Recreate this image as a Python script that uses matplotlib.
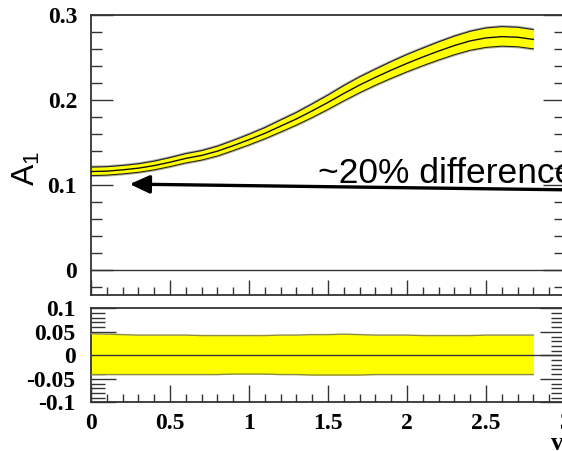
import matplotlib
matplotlib.use("Agg")
import matplotlib.pyplot as plt
from matplotlib.ticker import MultipleLocator
import numpy as np

# A1 central values and relative band half-widths versus v
v = [0.0, 0.1, 0.2, 0.3, 0.4, 0.5, 0.6, 0.7, 0.8, 0.9,
     1.0, 1.1, 1.2, 1.3, 1.4, 1.5, 1.6, 1.7, 1.8, 1.9,
     2.0, 2.1, 2.2, 2.3, 2.4, 2.5, 2.6, 2.7, 2.8]
a1 = [0.1155, 0.116, 0.1175, 0.1195, 0.1225, 0.1265, 0.131, 0.1345, 0.1395, 0.1460,
      0.1530, 0.1605, 0.1690, 0.1775, 0.1870, 0.1970, 0.2075, 0.2175, 0.2265, 0.2350,
      0.2430, 0.2505, 0.2575, 0.2640, 0.2695, 0.2730, 0.2745, 0.2738, 0.2712]
rel_up = [0.046, 0.045, 0.044, 0.043, 0.043, 0.043, 0.043, 0.042, 0.042, 0.042,
          0.042, 0.042, 0.043, 0.043, 0.044, 0.044, 0.045, 0.044, 0.043, 0.043,
          0.043, 0.042, 0.042, 0.042, 0.042, 0.043, 0.043, 0.043, 0.043]
rel_dn = [0.041, 0.041, 0.041, 0.041, 0.041, 0.041, 0.041, 0.041, 0.041, 0.040,
          0.040, 0.040, 0.041, 0.041, 0.042, 0.042, 0.042, 0.042, 0.041, 0.041,
          0.041, 0.041, 0.041, 0.041, 0.041, 0.041, 0.041, 0.041, 0.041]

xlim = (0.0, 3.0)
top_ylim = (-0.03, 0.3)
bot_ylim = (-0.1, 0.1)
annot_text = "~20% difference"

v = np.array(v)
a1 = np.array(a1)
up = a1 * (1 + np.array(rel_up))
dn = a1 * (1 - np.array(rel_dn))
r_up = np.array(rel_up)
r_dn = -np.array(rel_dn)

W, H = 562, 451
fig = plt.figure(figsize=(W / 100, H / 100), dpi=100)
fig.patch.set_facecolor("white")

tick_font = dict(family="Liberation Serif", weight="bold", size=17)
frame_col = "#333333"


def style_axes(ax):
    for s in ax.spines.values():
        s.set_color(frame_col)
        s.set_linewidth(1.3)
    ax.tick_params(which="both", direction="in", color=frame_col, width=1.0,
                   top=False, right=True)


# upper panel
ax1 = fig.add_axes([91 / W, (H - 295) / H, 474 / W, 280 / H])
style_axes(ax1)
ax1.set_xlim(*xlim)
ax1.set_ylim(*top_ylim)
ax1.xaxis.set_major_locator(MultipleLocator(0.5))
ax1.xaxis.set_minor_locator(MultipleLocator(0.1))
ax1.yaxis.set_major_locator(MultipleLocator(0.1))
ax1.yaxis.set_minor_locator(MultipleLocator(0.02))
ax1.tick_params(axis="x", which="major", length=11, labelbottom=False)
ax1.tick_params(axis="x", which="minor", length=6)
ax1.tick_params(axis="y", which="major", length=16)
ax1.tick_params(axis="y", which="minor", length=8)
ax1.set_yticks([0, 0.1, 0.2, 0.3])
ax1.set_yticklabels(["0", "0.1", "0.2", "0.3"], fontdict=tick_font)
ax1.tick_params(axis="y", pad=10)

ax1.axhline(0, color=frame_col, lw=1.0)
ax1.fill_between(v, dn, up, color="#ffff00", lw=0, zorder=2)
for edge in (up, dn):
    ax1.plot(v, edge, color="#b0b0b0", lw=2.2, zorder=1.5, solid_capstyle="butt")
    ax1.plot(v, edge, color="#222222", lw=0.8, zorder=3)
ax1.plot(v, a1, color="#111111", lw=1.0, zorder=3)

ax1.annotate("", xy=(0.245, 0.1007), xycoords="data",
             xytext=(3.2, 0.0935), textcoords="data",
             arrowprops=dict(arrowstyle="-|>,head_length=1.2,head_width=0.55",
                             color="black", lw=2.4, shrinkA=0, shrinkB=0),
             annotation_clip=False)
fig.text(318 / W, (H - 183) / H, annot_text, family="Liberation Sans",
         size=25.5, va="baseline", ha="left")

fig.text(26 / W, (H - 168) / H, r"$\mathregular{A_{1}}$", family="Liberation Sans",
         size=23, rotation=90, ha="center", va="center")

# lower panel: relative band
ax2 = fig.add_axes([91 / W, (H - 402.3) / H, 474 / W, 94 / H])
style_axes(ax2)
ax2.set_xlim(*xlim)
ax2.set_ylim(*bot_ylim)
ax2.xaxis.set_major_locator(MultipleLocator(0.5))
ax2.xaxis.set_minor_locator(MultipleLocator(0.1))
ax2.yaxis.set_minor_locator(MultipleLocator(0.01))
ax2.set_yticks([-0.1, -0.05, 0, 0.05, 0.1])
ax2.set_yticklabels(["-0.1", "-0.05", "0", "0.05", "0.1"], fontdict=tick_font)
ax2.set_xticks([0, 0.5, 1, 1.5, 2, 2.5, 3])
ax2.set_xticklabels(["0", "0.5", "1", "1.5", "2", "2.5", "3"], fontdict=tick_font)
ax2.tick_params(axis="x", which="major", length=12, pad=8)
ax2.tick_params(axis="x", which="minor", length=6)
ax2.tick_params(axis="y", which="major", length=18, pad=11)
ax2.tick_params(axis="y", which="minor", length=10)

ax2.fill_between(v, r_dn, r_up, color="#ffff00", lw=0, zorder=2)
for edge in (r_up, r_dn):
    ax2.plot(v, edge, color="#8a8a40", lw=1.0, zorder=3)
ax2.axhline(0, color=frame_col, lw=1.0, zorder=4)

fig.text(551 / W, (H - 443) / H, "v", family="Liberation Serif", weight="bold",
         size=18, ha="left", va="center")

fig.savefig("out.png", dpi=100, facecolor="white")
